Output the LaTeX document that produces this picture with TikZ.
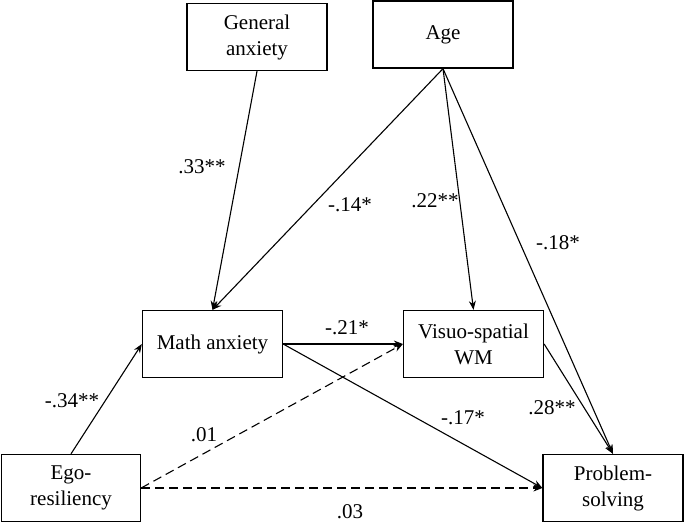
\documentclass[tikz,border=0pt]{standalone}
\usepackage{fontspec}
\setmainfont{Liberation Serif}
\usetikzlibrary{arrows.meta}
\begin{document}
\begin{tikzpicture}[x=1pt,y=-1pt,
  box/.style={draw,line width=1.3pt,minimum width=140pt,minimum height=67pt,inner sep=0pt,align=center,font=\fontsize{21}{26}\selectfont},
  lab/.style={inner sep=0pt,font=\fontsize{21}{26}\selectfont},
  arr/.style={line width=1.1pt,-{Stealth[length=9pt,width=7pt]}},
  darr/.style={arr,dash pattern=on 9pt off 5pt}]
\useasboundingbox (0,0) rectangle (685,524);
\node[box] (ga) at (257,37) {General\\anxiety};
\node[box] (age) at (443,34.5) {Age};
\node[box] (ma) at (212.5,344) {Math anxiety};
\node[box] (vs) at (473.5,344) {Visuo-spatial\\WM};
\node[box,minimum width=139pt] (eg) at (71,488) {Ego-\\resiliency};
\node[box] (ps) at (613,488) {Problem-\\solving};

\draw[arr] (ga.south) -- (ma.north);
\draw[arr] (age.south) -- (ma.north);
\draw[arr] (age.south) -- (vs.north);
\draw[arr] (age.south) -- (ps.north);
\draw[arr] (vs.east) -- (ps.north);
\draw[arr] (ma.east) -- (vs.west);
\draw[arr] (ma.east) -- (ps.west);
\draw[arr] (eg.north) -- (ma.west);
\draw[darr] (eg.east) -- (vs.west);
\draw[darr] (eg.east) -- (ps.west);

\node[lab] (l1) at (202,167) {.33**};
\node[lab] (l2) at (350,205) {-.14*};
\node[lab] (l3) at (435,201) {.22**};
\node[lab] (l4) at (558,243) {-.18*};
\node[lab] (l5) at (347,328) {-.21*};
\node[lab] (l6) at (72,401) {-.34**};
\node[lab] (l7) at (204,435) {.01};
\node[lab] (l8) at (463,418) {-.17*};
\node[lab] (l9) at (552,408) {.28**};
\node[lab] (l10) at (350,512) {.03};
\end{tikzpicture}
\end{document}
